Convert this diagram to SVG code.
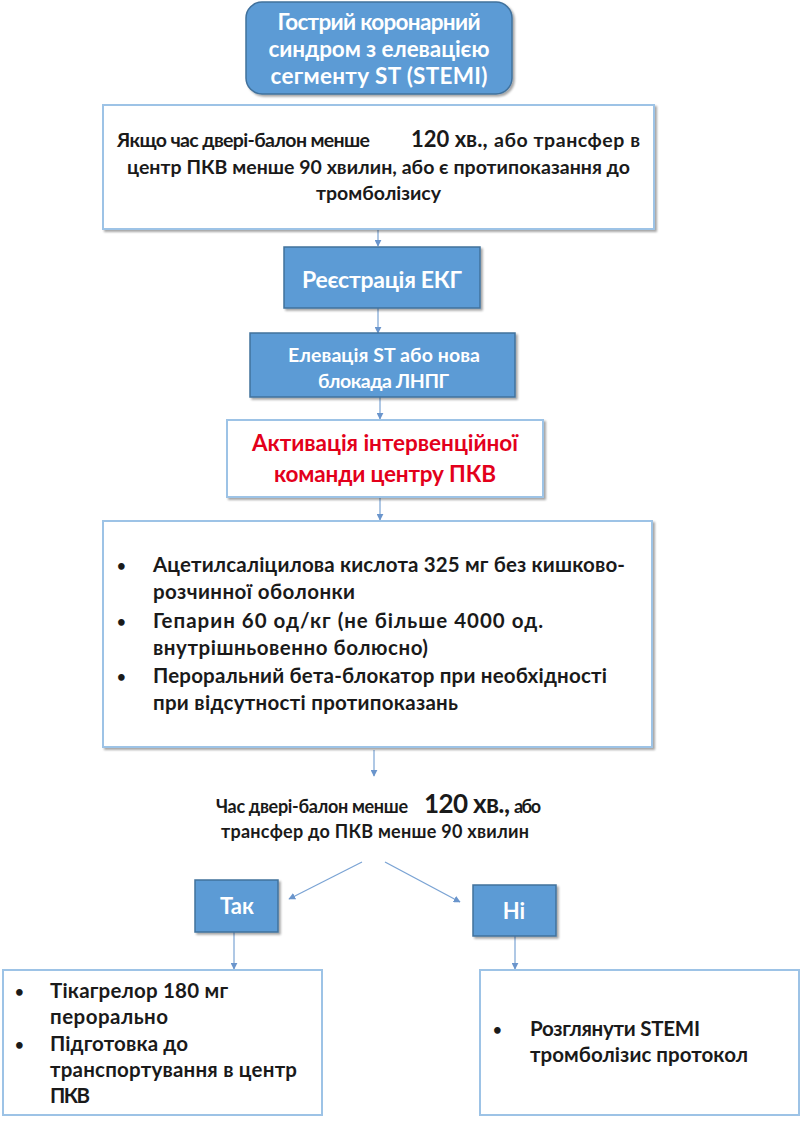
<svg xmlns="http://www.w3.org/2000/svg" width="801" height="1125" viewBox="0 0 801 1125">
<defs>
<style>
text{font-family:Lato,"Open Sans","Liberation Sans",sans-serif;font-weight:bold;}
.blue{fill:#5b9bd5;stroke:#41719c;stroke-width:1.5;}
.white{fill:#fff;stroke:#9dc3e6;stroke-width:2;}
.wt{fill:#fff;text-anchor:middle;}
.wl{fill:#fff;}
.bt{fill:#1a1a1a;}
.rt{fill:#e3001b;text-anchor:middle;font-size:22.5px;}
.bul{font-size:15px;}
.con{stroke:#7aa3d4;stroke-width:1.2;fill:none;marker-end:url(#ah);}
</style>
<marker id="ah" viewBox="0 0 10 10" refX="9" refY="5" markerWidth="7" markerHeight="7" orient="auto" markerUnits="userSpaceOnUse">
<path d="M0,0 L10,5 L0,10 z" fill="#6a95cc"/>
</marker>
<filter id="sh" x="-5%" y="-5%" width="115%" height="120%">
<feDropShadow dx="2" dy="2" stdDeviation="1.2" flood-color="#000" flood-opacity="0.35"/>
</filter>
</defs>

<g id="connectors">
<line class="con" x1="378" y1="229" x2="378" y2="246"/>
<line class="con" x1="378" y1="308" x2="378" y2="333"/>
<line class="con" x1="380" y1="397" x2="380" y2="419"/>
<line class="con" x1="380" y1="498" x2="380" y2="520"/>
<line class="con" x1="374" y1="750" x2="374" y2="776"/>
<line class="con" x1="362" y1="862" x2="289" y2="899"/>
<line class="con" x1="385" y1="862" x2="460" y2="902"/>
<line class="con" x1="234" y1="932" x2="234" y2="969"/>
<line class="con" x1="515" y1="936" x2="515" y2="969"/>
</g>

<g id="n1">
<rect class="blue" x="246" y="2" width="266" height="92" rx="16" filter="url(#sh)"/>
<text class="wt" x="379" y="30" font-size="22.5" textLength="203">Гострий коронарний</text>
<text class="wt" x="379" y="57" font-size="22.5" textLength="221">синдром з елевацією</text>
<text class="wt" x="379" y="84" font-size="22.5" textLength="217">сегменту ST (STEMI)</text>
</g>

<g id="n2">
<rect class="white" x="103" y="105" width="551" height="124" filter="url(#sh)"/>
<text class="bt" x="117" y="147" font-size="19.5" textLength="253">Якщо час двері-балон менше</text>
<text class="bt" x="411" y="147" font-size="22">120 хв.,</text>
<text class="bt" x="494" y="147" font-size="19.5" textLength="146">або трансфер в</text>
<text class="bt" x="127" y="174" font-size="19.5" textLength="503">центр ПКВ менше 90 хвилин, або є протипоказання до</text>
<text class="bt" x="316" y="200" font-size="19.5" textLength="125">тромболізису</text>
</g>

<g id="n3">
<rect class="blue" x="284" y="247" width="196" height="61" filter="url(#sh)"/>
<text class="wl" x="302" y="288" font-size="23" textLength="160">Реєстрація ЕКГ</text>
</g>

<g id="n4">
<rect class="blue" x="250" y="333" width="265" height="64" filter="url(#sh)"/>
<text class="wl" x="288" y="362" font-size="19.5" textLength="192">Елевація ST або нова</text>
<text class="wl" x="318" y="388" font-size="19.5" textLength="131">блокада ЛНПГ</text>
</g>

<g id="n5">
<rect class="white" x="227" y="420" width="316" height="77" filter="url(#sh)"/>
<text class="rt" x="385" y="451" textLength="266">Активація інтервенційної</text>
<text class="rt" x="385" y="482" textLength="222">команди центру ПКВ</text>
</g>

<g id="n6">
<rect class="white" x="103" y="521" width="549" height="226" filter="url(#sh)"/>
<g class="bt" font-size="20.5">
<text class="bul" x="117" y="571">•</text>
<text x="153" y="572" textLength="472">Ацетилсаліцилова кислота 325 мг без кишково-</text>
<text x="153" y="599" textLength="202">розчинної оболонки</text>
<text class="bul" x="117" y="627">•</text>
<text x="153" y="628" textLength="390">Гепарин 60 од/кг (не більше 4000 од.</text>
<text x="153" y="655" textLength="275">внутрішньовенно болюсно)</text>
<text class="bul" x="117" y="682">•</text>
<text x="153" y="683" textLength="454">Пероральний бета-блокатор при необхідності</text>
<text x="153" y="710" textLength="305">при відсутності протипоказань</text>
</g>
</g>

<g id="n7">
<text class="bt" x="216" y="813" font-size="18" textLength="192">Час двері-балон менше</text>
<text class="bt" x="424" y="813" font-size="26" textLength="86">120 хв.,</text>
<text class="bt" x="514" y="813" font-size="18" textLength="27">або</text>
<text class="bt" x="221" y="838" font-size="18" textLength="308">трансфер до ПКВ менше 90 хвилин</text>
</g>

<g id="n8">
<rect class="blue" x="195" y="880" width="83" height="52" filter="url(#sh)"/>
<text class="wt" x="237" y="914" font-size="22">Так</text>
</g>

<g id="n9">
<rect class="blue" x="473" y="885" width="83" height="51" filter="url(#sh)"/>
<text class="wt" x="514" y="919" font-size="22">Ні</text>
</g>

<g id="n10">
<rect class="white" x="3" y="970" width="319" height="145"/>
<g class="bt" font-size="20.5">
<text class="bul" x="15" y="997">•</text>
<text x="50" y="998" textLength="178">Тікагрелор 180 мг</text>
<text x="50" y="1024" textLength="118">перорально</text>
<text class="bul" x="15" y="1050">•</text>
<text x="50" y="1051" textLength="138">Підготовка до</text>
<text x="50" y="1077" textLength="247">транспортування в центр</text>
<text x="50" y="1103" textLength="40">ПКВ</text>
</g>
</g>

<g id="n11">
<rect class="white" x="480" y="970" width="319" height="145"/>
<g class="bt" font-size="20.5">
<text class="bul" x="493" y="1035">•</text>
<text x="530" y="1036" textLength="170">Розглянути STEMI</text>
<text x="530" y="1062" textLength="218">тромболізис протокол</text>
</g>
</g>
</svg>
